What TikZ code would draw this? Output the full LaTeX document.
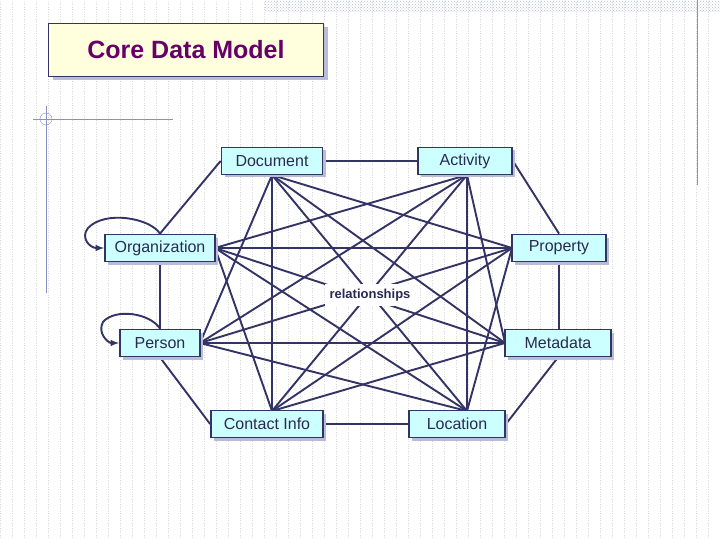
\documentclass[tikz,border=0pt]{standalone}
\usepackage{fontspec}
\setmainfont{Liberation Sans}
\usetikzlibrary{shadows,patterns,backgrounds}
\definecolor{navy}{HTML}{333366}
\definecolor{boxfill}{HTML}{CCFFFF}
\definecolor{titlefill}{HTML}{FFFFDD}
\definecolor{titletext}{HTML}{660066}
\definecolor{gridc}{HTML}{DADADA}
\definecolor{deco}{HTML}{8890C0}
\begin{document}
\begin{tikzpicture}[x=1pt,y=-1pt,
  ent/.style={draw=navy,line width=1.8pt,fill=boxfill,font=\fontsize{16}{18}\selectfont,text=navy!80!black,
    minimum height=27pt,inner sep=0pt,drop shadow={shadow xshift=3pt,shadow yshift=-3pt,fill=deco!60,opacity=1}},
  rel/.style={navy,line width=1.9pt},
  loop/.style={navy,line width=1.9pt,-latex}]
\useasboundingbox (0,0) rectangle (720,540);
\node[draw=navy,line width=1.8pt,fill=titlefill,minimum width=275pt,minimum height=53pt,
  font=\fontsize{25}{28}\selectfont\bfseries,text=titletext,
  drop shadow={shadow xshift=4pt,shadow yshift=-4pt,fill=deco!60,opacity=1}] (title) at (186,50) {Core Data Model};
\node[ent,minimum width=101pt] (doc) at (272,161) {Document};
\node[ent,minimum width=94pt] (act) at (465,161) {Activity};
\node[ent,minimum width=110pt] (org) at (160,248) {Organization};
\node[ent,minimum width=94pt] (prop) at (559,248) {Property};
\node[ent,minimum width=80pt] (per) at (160,343) {Person};
\node[ent,minimum width=106pt] (meta) at (558,343) {Metadata};
\node[ent,minimum width=112pt] (con) at (267,424) {Contact Info};
\node[ent,minimum width=96pt] (loc) at (457,424) {Location};
\coordinate (d) at (272,175);
\coordinate (a) at (467,175);
\coordinate (o) at (215,248);
\coordinate (p) at (512,248);
\coordinate (pe) at (200,343);
\coordinate (m) at (505,343);
\coordinate (c) at (272,411);
\coordinate (l) at (467,411);
\begin{scope}[on background layer]
\fill[white] (0,0) rectangle (720,540);
\draw[gridc,dotted,step=12] (0,0) grid (720,540);
\fill[pattern=crosshatch dots,pattern color=deco!60] (265,0) rectangle (720,12);
\draw[deco] (697,0) -- (697,185);
\draw[deco] (33,119) -- (173,119);
\draw[deco] (46,106) -- (46,293);
\draw[deco] (46,119) circle (6);
\foreach \u/\v in {d/p,d/pe,d/m,d/c,d/l,a/o,a/pe,a/m,a/c,a/l,o/p,o/m,o/c,o/l,p/pe,p/c,p/l,pe/m,pe/l,m/c}
  \draw[rel] (\u) -- (\v);
\draw[rel] (doc.east) -- (act.west);
\draw[rel] (act.east) -- (prop.north);
\draw[rel] (prop.south) -- (meta.north-|prop.south);
\draw[rel] (meta.south) -- (loc.east);
\draw[rel] (loc.west) -- (con.east);
\draw[rel] (con.west) -- (per.south);
\draw[rel] (per.north) -- (org.south-|per.north);
\draw[rel] (org.north) -- (doc.west);
\end{scope}
\node[fill=white,inner sep=5pt,font=\fontsize{13}{15}\selectfont\bfseries,text=navy!80!black] (rellab) at (370,295) {relationships};
\draw[loop] (org.north) .. controls (150,218) and (105,210) .. (88,228) .. controls (80,238) and (90,248) .. (org.west);
\draw[loop] (per.north) .. controls (150,313) and (115,308) .. (103,322) .. controls (97,333) and (108,343) .. (per.west);
\end{tikzpicture}
\end{document}
